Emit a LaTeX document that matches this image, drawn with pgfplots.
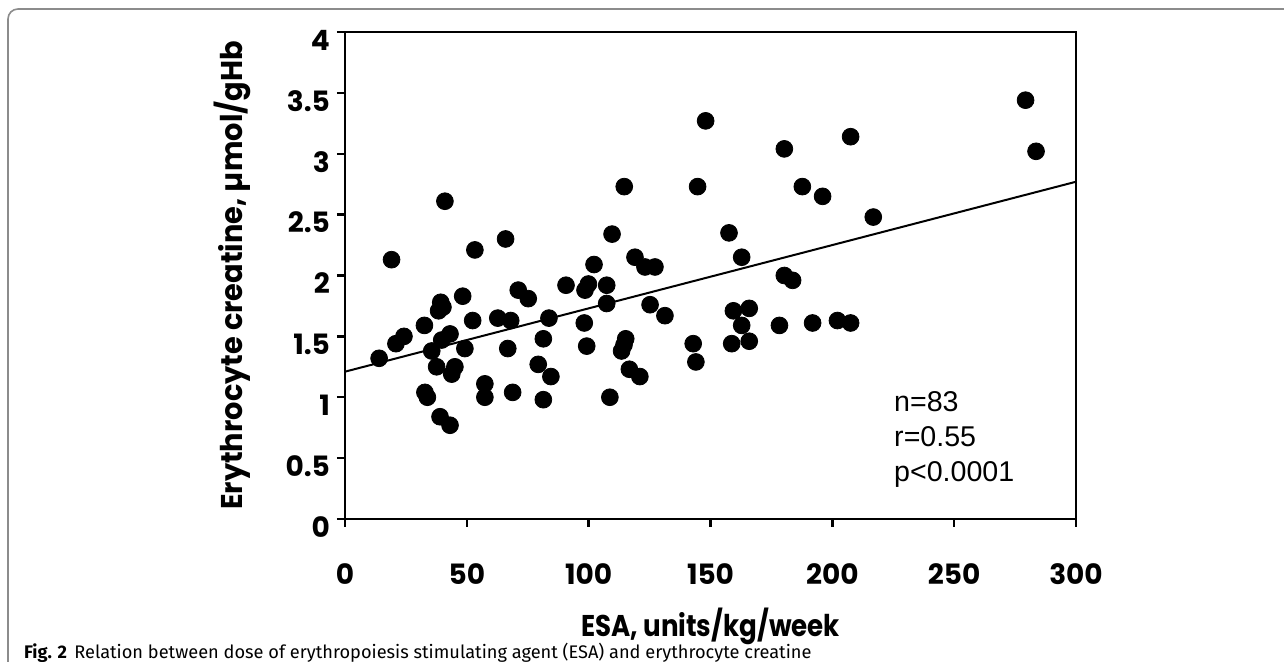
\documentclass[border=0pt]{standalone}
\usepackage{fontspec}
\setmainfont{Poppins}
\newfontfamily\statfont{Liberation Sans}
\newfontfamily\capfont{Fira Sans}
\usepackage{graphicx}
\usepackage{pgfplots}
\pgfplotsset{compat=1.18}

% ESA dose (units/kg/week) vs erythrocyte creatine (umol/gHb)
\pgfplotstableread{
x y
14.0 1.32
19.1 2.13
20.9 1.44
24.2 1.50
32.6 1.59
32.8 1.04
33.8 1.00
35.6 1.38
37.6 1.25
38.4 1.71
39.0 0.84
39.3 1.78
39.7 1.47
40.2 1.74
41.0 2.61
43.1 1.52
43.1 0.77
43.8 1.19
45.1 1.25
48.3 1.83
49.2 1.40
52.4 1.63
53.3 2.21
57.4 1.11
57.4 1.00
62.7 1.65
65.9 2.30
66.8 1.40
68.0 1.63
68.8 1.04
71.1 1.88
75.2 1.81
79.3 1.27
81.4 1.48
81.4 0.98
83.7 1.65
84.5 1.17
90.7 1.92
98.2 1.61
98.5 1.88
99.2 1.42
99.9 1.93
102.2 2.09
107.4 1.92
107.4 1.77
108.7 1.00
109.6 2.34
113.5 1.38
114.5 1.43
114.6 2.73
115.2 1.48
116.7 1.23
119.0 2.15
121.0 1.17
123.1 2.07
125.2 1.76
127.2 2.07
131.3 1.67
142.9 1.44
144.0 1.29
144.7 2.73
148.0 3.27
157.6 2.35
158.7 1.44
159.4 1.71
162.8 2.15
162.8 1.59
165.9 1.73
165.9 1.46
178.3 1.59
180.3 3.04
180.3 2.00
183.7 1.96
187.7 2.73
191.9 1.61
196.0 2.65
202.1 1.63
207.5 3.14
207.5 1.61
216.8 2.48
279.3 3.44
283.6 3.02
}\esadata

\begin{document}
\begin{tikzpicture}
\useasboundingbox (-172.5pt,-71.5pt) rectangle (469.5pt,259.5pt);
\draw[black!45, line width=0.8pt, rounded corners=5pt] (-168.5pt,-80pt) -- (-168.5pt,255pt) -- (480pt,255pt);
\begin{axis}[
  at={(0pt,0pt)}, anchor=south west,
  scale only axis, width=365.5pt, height=243.5pt,
  xmin=0, xmax=300, ymin=0, ymax=4,
  xtick={0,50,...,300}, ytick={0,0.5,...,4},
  tick pos=left, tick align=outside, major tick length=4pt,
  axis line style={line width=1.2pt},
  every tick/.style={black, line width=1.2pt},
  /pgf/number format/assume math mode=true,
  ticklabel style={font=\fontsize{14}{14}\selectfont\bfseries},
  yticklabel style={yshift=-4pt},
  xticklabel style={yshift=-15pt},
  xlabel={\scalebox{0.87}[1]{ESA, units/kg/week}},
  ylabel={\scalebox{0.96}[1]{Erythrocyte creatine, µmol/gHb}},
  label style={font=\fontsize{15}{16}\selectfont\bfseries},
  xlabel style={at={(axis description cs:0.5,-0.2197)}, anchor=center},
  ylabel style={at={(axis description cs:-0.1546,0.5)}, anchor=center},
  clip=false,
]
\addplot[only marks, mark=*, mark size=4.2pt, black] table[x=x, y=y] {\esadata};
\addplot[black, line width=1pt] coordinates {(0,1.21) (300,2.77)};
\node[anchor=west, align=left, font=\statfont\fontsize{14.3}{17.5}\selectfont]
  at (axis cs:222.5,0.655) {n=83\\r=0.55\\p<0.0001};
\end{axis}
\node[anchor=west, font=\capfont\fontsize{9.1}{10}\selectfont] at (-164pt,-67pt)
  {\textbf{Fig. 2}\hspace{0.4em}Relation between dose of erythropoiesis stimulating agent (ESA) and erythrocyte creatine};
\end{tikzpicture}
\end{document}
